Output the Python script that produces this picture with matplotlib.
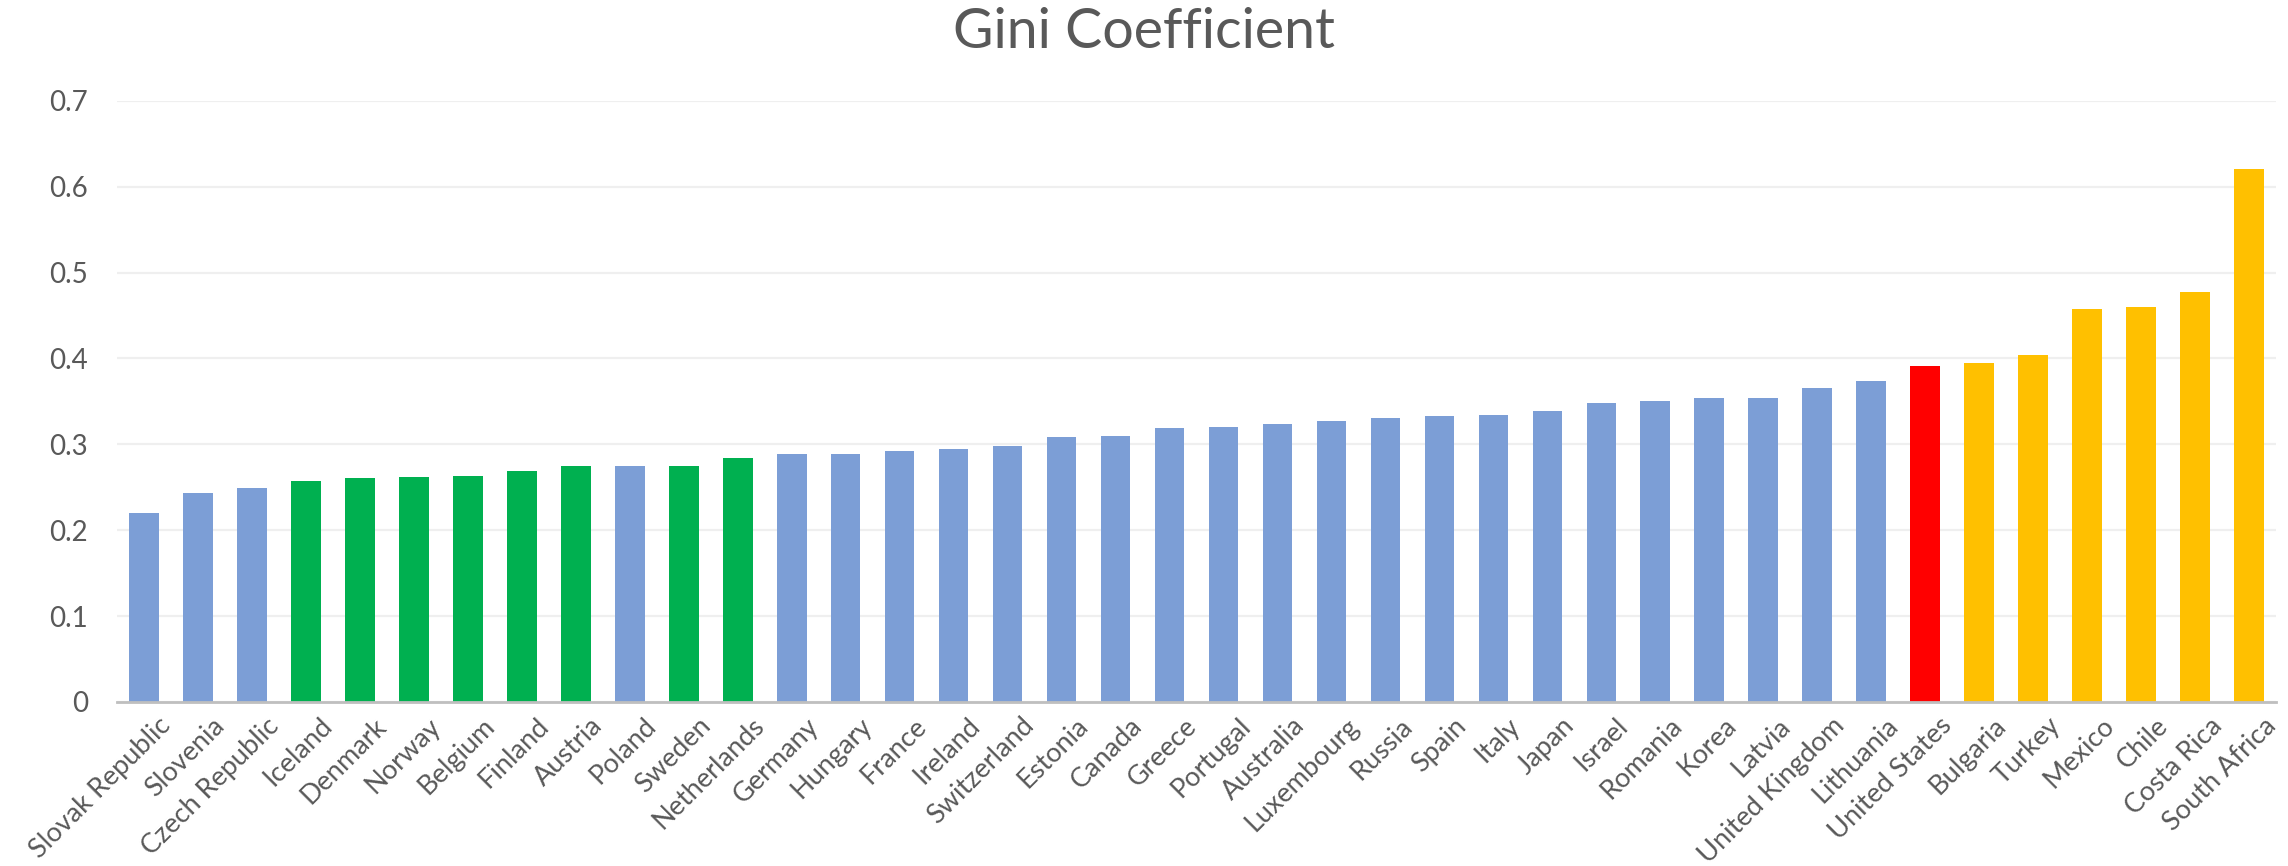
import matplotlib
matplotlib.use("Agg")
import matplotlib.pyplot as plt
from matplotlib.transforms import ScaledTranslation

countries = ["Slovak Republic", "Slovenia", "Czech Republic", "Iceland", "Denmark", "Norway",
             "Belgium", "Finland", "Austria", "Poland", "Sweden", "Netherlands", "Germany",
             "Hungary", "France", "Ireland", "Switzerland", "Estonia", "Canada", "Greece",
             "Portugal", "Australia", "Luxembourg", "Russia", "Spain", "Italy", "Japan",
             "Israel", "Romania", "Korea", "Latvia", "United Kingdom", "Lithuania",
             "United States", "Bulgaria", "Turkey", "Mexico", "Chile", "Costa Rica",
             "South Africa"]
gini = [0.220, 0.243, 0.249, 0.257, 0.261, 0.262, 0.263, 0.269, 0.275, 0.275, 0.275, 0.284,
        0.289, 0.289, 0.292, 0.295, 0.298, 0.309, 0.310, 0.319, 0.320, 0.324, 0.327, 0.331,
        0.333, 0.334, 0.339, 0.348, 0.350, 0.354, 0.354, 0.366, 0.374, 0.391, 0.395, 0.404,
        0.458, 0.460, 0.477, 0.620]
groups = ["blue", "blue", "blue", "green", "green", "green", "green", "green", "green", "blue",
          "green", "green"] + ["blue"] * 21 + ["red"] + ["orange"] * 6
yticks = [0, 0.1, 0.2, 0.3, 0.4, 0.5, 0.6, 0.7]
ytick_labels = ["0", "0.1", "0.2", "0.3", "0.4", "0.5", "0.6", "0.7"]

palette = {"blue": "#7C9ED6", "green": "#00B050", "red": "#FF0000", "orange": "#FFC000"}
colors = [palette[g] for g in groups]

plt.rcParams['font.family'] = ['Lato', 'DejaVu Sans']

fig = plt.figure(figsize=(22.88, 8.66), dpi=100)
ax = fig.add_axes([0.0511, 0.1894, 0.9437, 0.6943])

x = list(range(len(countries)))
ax.bar(x, gini, width=0.55, color=colors, zorder=3)

ax.set_xlim(-0.5, len(countries) - 0.5)
ax.set_ylim(0, 0.7)
ax.set_yticks(yticks)
ax.set_yticklabels(ytick_labels)
ax.grid(axis='y', color='#EFEFEF', linewidth=1.6, zorder=0)
ax.set_axisbelow(True)

for s in ['top', 'right', 'left']:
    ax.spines[s].set_visible(False)
ax.spines['bottom'].set_color('#BFBFBF')
ax.spines['bottom'].set_linewidth(2)
ax.spines['bottom'].set_zorder(4)

ax.tick_params(axis='y', length=0, pad=21, labelsize=20, labelcolor='#595959')
ax.tick_params(axis='x', length=0, pad=8, labelsize=19.5, labelcolor='#595959')
ax.set_xticks(x)
ax.set_xticklabels(countries, rotation=45, ha='right', va='top', rotation_mode='anchor')
offset = ScaledTranslation(14 / 100, 0, fig.dpi_scale_trans)
for lbl in ax.get_xticklabels():
    lbl.set_transform(lbl.get_transform() + offset)

fig.text(0.5, 0.963, "Gini Coefficient", ha='center', va='center', fontsize=40,
         color='#595959')

fig.savefig("out.png", dpi=100)
